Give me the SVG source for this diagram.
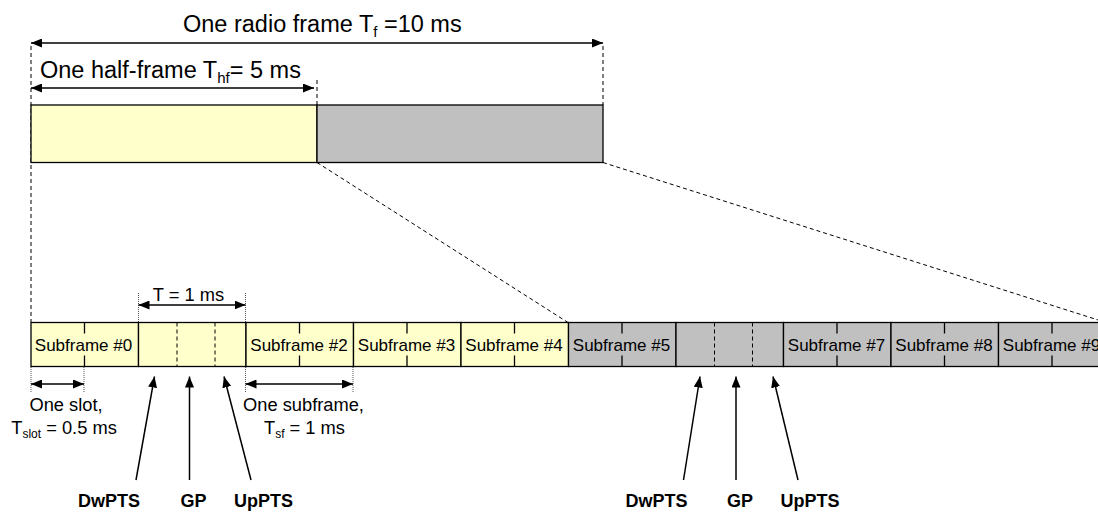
<svg xmlns="http://www.w3.org/2000/svg" width="1098" height="513" viewBox="0 0 1098 513">
<defs>
<marker id="ah" markerUnits="userSpaceOnUse" markerWidth="11" markerHeight="9" refX="11" refY="4.5" orient="auto-start-reverse">
<path d="M0,0 L11,4.5 L0,9 z" fill="#000"/>
</marker>
<style>
.t{font-family:"Liberation Sans",Arial,sans-serif;fill:#000}
.big{font-size:23.5px}
.mid{font-size:18.3px}
.sf{font-size:17px}
.b{font-size:18px;font-weight:bold}
.arr{stroke:#000;stroke-width:1.5;fill:none}
.dash{stroke:#000;stroke-width:1;stroke-dasharray:4 3;fill:none}
.dot{stroke:#555;stroke-width:1;stroke-dasharray:1 1;fill:none}
.y{fill:#FFFFCC;stroke:#000;stroke-width:1.3}
.g{fill:#C0C0C0;stroke:#000;stroke-width:1.3}
.tick{stroke:#000;stroke-width:1.3}
.sd{stroke:#000;stroke-width:1;stroke-dasharray:4 3}
</style>
</defs>
<rect width="1098" height="513" fill="#fff"/>

<g id="guides">
<line class="dash" x1="31" y1="46" x2="31" y2="322"/>
<line class="dash" x1="603" y1="46" x2="603" y2="105"/>
<line class="dash" x1="317" y1="80" x2="317" y2="105"/>
<line class="dash" x1="317" y1="162.5" x2="568" y2="322.5"/>
<line class="dash" x1="603" y1="162.5" x2="1106" y2="322.5"/>
<line class="dot" x1="138.5" y1="293" x2="138.5" y2="322"/>
<line class="dot" x1="245.5" y1="293" x2="245.5" y2="322"/>
<line class="dot" x1="31" y1="367" x2="31" y2="392"/>
<line class="dot" x1="84" y1="367" x2="84" y2="392"/>
<line class="dot" x1="245.5" y1="367" x2="245.5" y2="392"/>
<line class="dot" x1="353" y1="367" x2="353" y2="392"/>
</g>

<g id="frame">
<rect class="y" x="31" y="105" width="286" height="57.5"/>
<rect class="g" x="317" y="105" width="286" height="57.5"/>
</g>

<g id="subframes">
<rect class="y" x="31" y="322.5" width="107.5" height="44"/>
<rect class="y" x="138.5" y="322.5" width="107.5" height="44"/>
<rect class="y" x="246" y="322.5" width="107.5" height="44"/>
<rect class="y" x="353.5" y="322.5" width="107.5" height="44"/>
<rect class="y" x="461" y="322.5" width="107.5" height="44"/>
<rect class="g" x="568.5" y="322.5" width="107.5" height="44"/>
<rect class="g" x="676" y="322.5" width="107.5" height="44"/>
<rect class="g" x="783.5" y="322.5" width="107.5" height="44"/>
<rect class="g" x="891" y="322.5" width="107.5" height="44"/>
<rect class="g" x="998.5" y="322.5" width="107.5" height="44"/>
<g class="tick">
<line x1="84.5" y1="322.5" x2="84.5" y2="333.5"/><line x1="84.5" y1="355.5" x2="84.5" y2="366.5"/>
<line x1="299.5" y1="322.5" x2="299.5" y2="333.5"/><line x1="299.5" y1="355.5" x2="299.5" y2="366.5"/>
<line x1="407" y1="322.5" x2="407" y2="333.5"/><line x1="407" y1="355.5" x2="407" y2="366.5"/>
<line x1="514.5" y1="322.5" x2="514.5" y2="333.5"/><line x1="514.5" y1="355.5" x2="514.5" y2="366.5"/>
<line x1="622" y1="322.5" x2="622" y2="333.5"/><line x1="622" y1="355.5" x2="622" y2="366.5"/>
<line x1="837" y1="322.5" x2="837" y2="333.5"/><line x1="837" y1="355.5" x2="837" y2="366.5"/>
<line x1="944.5" y1="322.5" x2="944.5" y2="333.5"/><line x1="944.5" y1="355.5" x2="944.5" y2="366.5"/>
<line x1="1052" y1="322.5" x2="1052" y2="333.5"/><line x1="1052" y1="355.5" x2="1052" y2="366.5"/>
</g>
<line class="sd" x1="177" y1="322.5" x2="177" y2="366.5"/>
<line class="sd" x1="215" y1="322.5" x2="215" y2="366.5"/>
<line class="sd" x1="714.5" y1="322.5" x2="714.5" y2="366.5"/>
<line class="sd" x1="752.5" y1="322.5" x2="752.5" y2="366.5"/>
<g class="t sf" text-anchor="middle">
<text x="83.5" y="351">Subframe #0</text>
<text x="299" y="351">Subframe #2</text>
<text x="406.5" y="351">Subframe #3</text>
<text x="514" y="351">Subframe #4</text>
<text x="621.5" y="351">Subframe #5</text>
<text x="836.5" y="351">Subframe #7</text>
<text x="944" y="351">Subframe #8</text>
<text x="1051.5" y="351">Subframe #9</text>
</g>
</g>

<g id="connectors">
<line class="arr" x1="31" y1="43" x2="603" y2="43" marker-start="url(#ah)" marker-end="url(#ah)"/>
<line class="arr" x1="31" y1="88" x2="314" y2="88" marker-start="url(#ah)" marker-end="url(#ah)"/>
<line class="arr" x1="138.5" y1="305" x2="245.5" y2="305" marker-start="url(#ah)" marker-end="url(#ah)"/>
<line class="arr" x1="31" y1="384" x2="84" y2="384" marker-start="url(#ah)" marker-end="url(#ah)"/>
<line class="arr" x1="245.5" y1="384" x2="353" y2="384" marker-start="url(#ah)" marker-end="url(#ah)"/>
<line class="arr" x1="136" y1="480" x2="154.5" y2="376.5" marker-end="url(#ah)"/>
<line class="arr" x1="189.5" y1="480" x2="189.5" y2="376.5" marker-end="url(#ah)"/>
<line class="arr" x1="251" y1="480" x2="224" y2="376.5" marker-end="url(#ah)"/>
<line class="arr" x1="683.5" y1="480" x2="700" y2="376.5" marker-end="url(#ah)"/>
<line class="arr" x1="736" y1="480" x2="736" y2="376.5" marker-end="url(#ah)"/>
<line class="arr" x1="798" y1="480" x2="773" y2="376.5" marker-end="url(#ah)"/>
</g>

<g id="labels" class="t">
<text class="big" x="183" y="32">One radio frame T<tspan font-size="15" dy="5">f</tspan><tspan dy="-5"> =10 ms</tspan></text>
<text class="big" x="40" y="78">One half-frame T<tspan font-size="15" dy="5">hf</tspan><tspan dy="-5">= 5 ms</tspan></text>
<text class="mid" x="188.5" y="301" text-anchor="middle">T = 1 ms</text>
<text class="mid" x="66" y="411" text-anchor="middle">One slot,</text>
<text class="mid" x="64" y="433.5" text-anchor="middle">T<tspan font-size="12" dy="4">slot</tspan><tspan dy="-4"> = 0.5 ms</tspan></text>
<text class="mid" x="303.5" y="411" text-anchor="middle">One subframe,</text>
<text class="mid" x="304.5" y="433.5" text-anchor="middle">T<tspan font-size="12" dy="4">sf</tspan><tspan dy="-4"> = 1 ms</tspan></text>
<g class="b" text-anchor="middle">
<text x="109" y="507">DwPTS</text>
<text x="193.5" y="507">GP</text>
<text x="263.5" y="507">UpPTS</text>
<text x="656.5" y="507">DwPTS</text>
<text x="740" y="507">GP</text>
<text x="810" y="507">UpPTS</text>
</g>
</g>
</svg>
